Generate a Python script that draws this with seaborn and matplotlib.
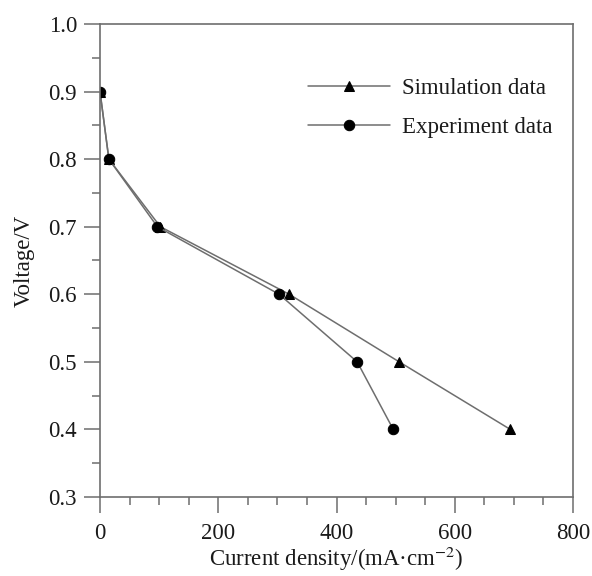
import pandas as pd
import matplotlib.pyplot as plt
import seaborn as sns
from matplotlib.ticker import MultipleLocator

# values
voltage = [0.9, 0.8, 0.7, 0.6, 0.5, 0.4]
sim_current = [0, 15, 102, 320, 506, 694]
exp_current = [0, 15, 97, 303, 435, 496]

df = pd.concat([
    pd.DataFrame({'current': sim_current, 'voltage': voltage, 'series': 'Simulation data'}),
    pd.DataFrame({'current': exp_current, 'voltage': voltage, 'series': 'Experiment data'}),
])

sns.set_style('ticks')
plt.rcParams['font.family'] = ['Liberation Serif', 'DejaVu Serif']
plt.rcParams['mathtext.fontset'] = 'stix'

fig = plt.figure(figsize=(5.92, 5.76), dpi=100)
ax = fig.add_axes([100 / 592, 79 / 576, 473 / 592, 473 / 576])

markers = {'Simulation data': '^', 'Experiment data': 'o'}
sizes = {'Simulation data': 7, 'Experiment data': 7.5}
for name in ['Simulation data', 'Experiment data']:
    sub = df[df['series'] == name]
    sns.lineplot(data=sub, x='current', y='voltage', sort=False, ax=ax,
                 color='#6e6e6e', lw=1.1, marker=markers[name], ms=sizes[name],
                 mfc='black', mec='black', label=name)

ax.set_xlim(0, 800)
ax.set_ylim(0.3, 1.0)
ax.xaxis.set_major_locator(MultipleLocator(200))
ax.xaxis.set_minor_locator(MultipleLocator(50))
ax.yaxis.set_major_locator(MultipleLocator(0.1))
ax.yaxis.set_minor_locator(MultipleLocator(0.05))
ax.yaxis.set_major_formatter(plt.FormatStrFormatter('%.1f'))

for s in ax.spines.values():
    s.set_color('#6e6e6e')
    s.set_linewidth(1.2)
ax.tick_params(which='major', direction='out', length=11.5, width=1.1, color='#6e6e6e',
               labelsize=16.5, labelcolor='#1a1a1a', pad=5)
ax.tick_params(axis='x', which='major', pad=7)
ax.tick_params(which='minor', direction='out', length=5.8, width=1.1, color='#6e6e6e')

ax.set_xlabel('Current density/(mA·cm$^{-2}$)', fontsize=16.5, color='#1a1a1a', labelpad=1)
ax.set_ylabel('Voltage/V', fontsize=16.5, color='#1a1a1a', labelpad=10)

ax.legend(loc='upper right', bbox_to_anchor=(1.0, 0.93), frameon=False, fontsize=16.5,
          handlelength=3.6, handletextpad=0.5, labelspacing=0.8, labelcolor='#1a1a1a')

fig.savefig('out.png', dpi=100)
